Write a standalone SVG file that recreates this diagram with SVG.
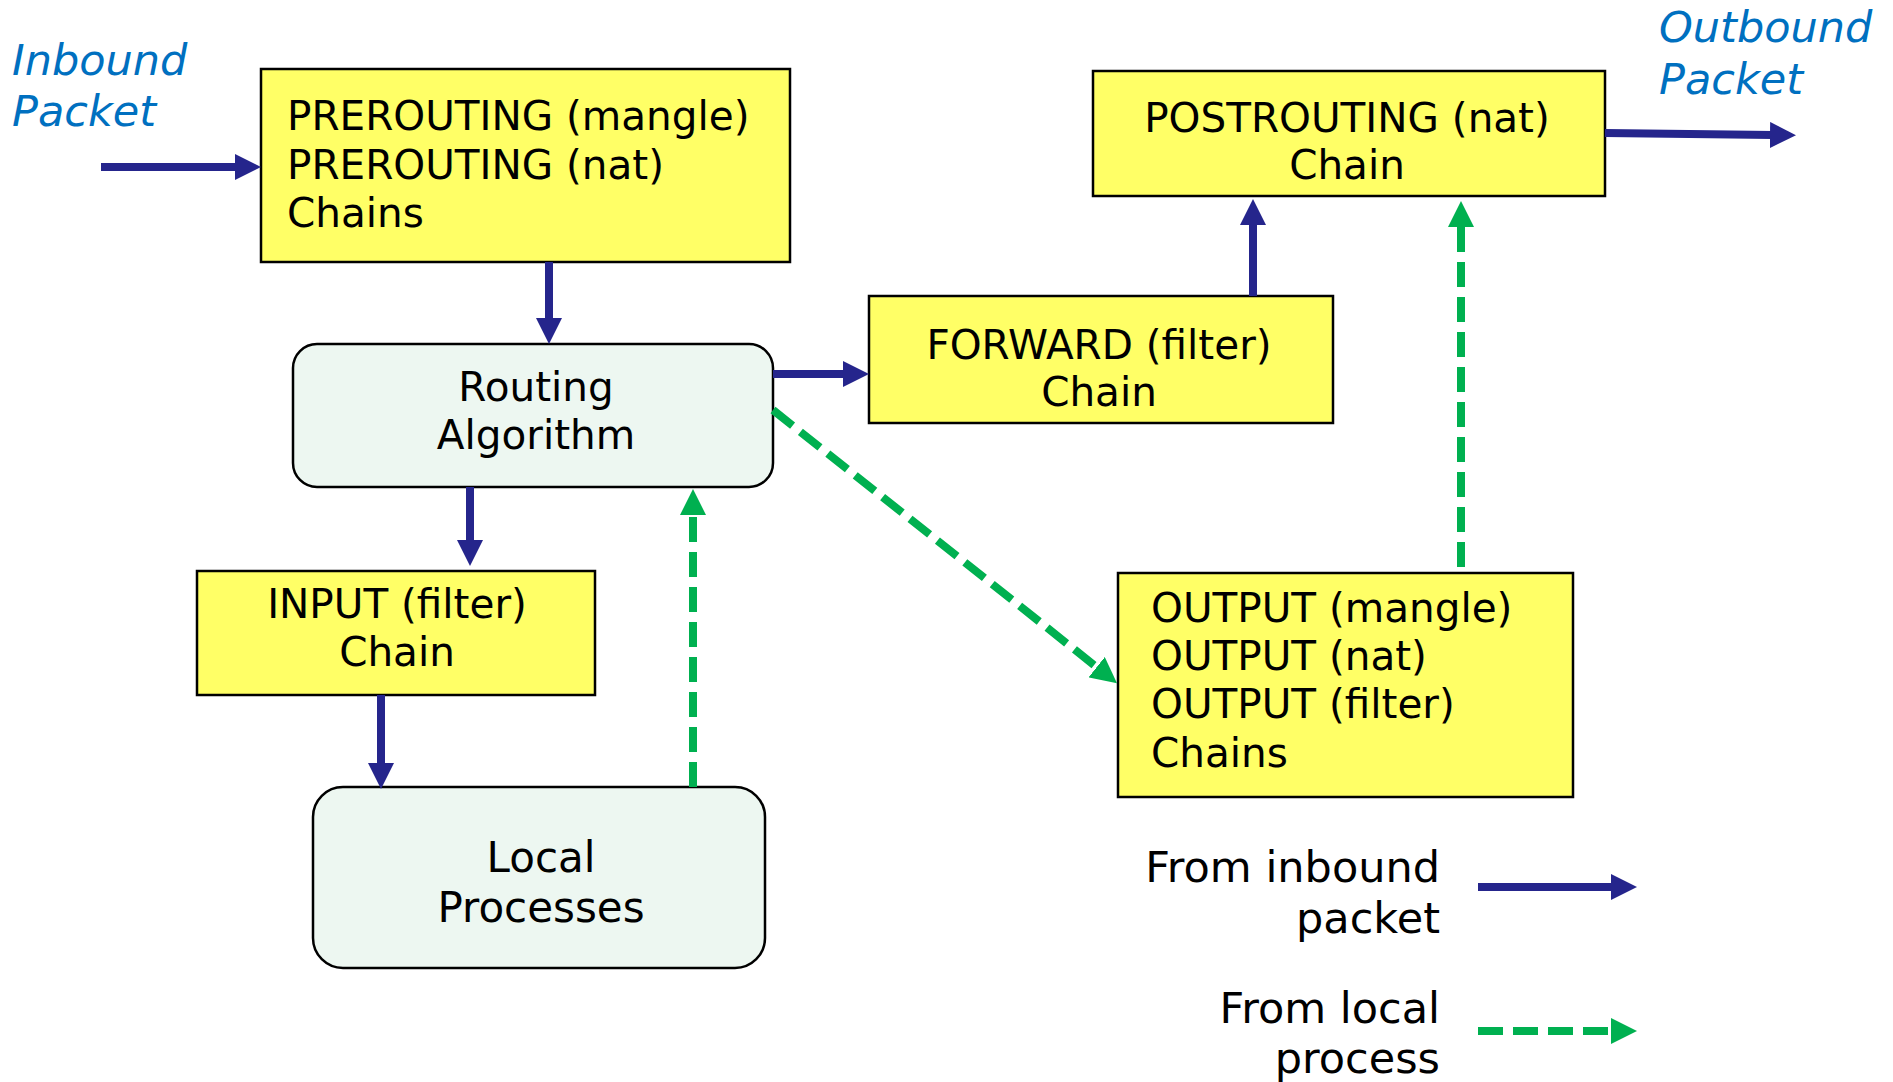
<svg xmlns="http://www.w3.org/2000/svg" width="1893" height="1082" viewBox="0 0 1893 1082">
<defs>
<style>
.chain{fill:#FFFF66;stroke:#000;stroke-width:2.5}
.proc{fill:#EDF7F1;stroke:#000;stroke-width:2.5}
.t{font-family:"DejaVu Sans",Verdana,sans-serif;font-size:40.5px;fill:#000}
.c{text-anchor:middle}
.lbl{font-family:"DejaVu Sans",Verdana,sans-serif;font-size:43px;font-style:italic;fill:#0070C0}
.leg{font-family:"DejaVu Sans",Verdana,sans-serif;font-size:43px;fill:#000;text-anchor:end}
.blue{stroke:#25258C;stroke-width:8;fill:none;marker-end:url(#ab)}
.green{stroke:#00B050;stroke-width:8;fill:none;stroke-dasharray:25 10;marker-end:url(#ag)}
</style>
<marker id="ab" markerUnits="userSpaceOnUse" markerWidth="26" markerHeight="26" refX="3" refY="13" orient="auto"><path d="M0,0 L26,13 L0,26 z" fill="#25258C"/></marker>
<marker id="ag" markerUnits="userSpaceOnUse" markerWidth="26" markerHeight="26" refX="3" refY="13" orient="auto"><path d="M0,0 L26,13 L0,26 z" fill="#00B050"/></marker>
</defs>
<rect width="1893" height="1082" fill="#fff"/>
<g id="labels">
<text class="lbl" x="12" y="75">Inbound</text>
<text class="lbl" x="12" y="126">Packet</text>
<text class="lbl" x="1659" y="42">Outbound</text>
<text class="lbl" x="1659" y="94">Packet</text>
</g>
<g id="prerouting">
<rect class="chain" x="261" y="69" width="529" height="193"/>
<text class="t" x="287" y="130">PREROUTING (mangle)</text>
<text class="t" x="287" y="179">PREROUTING (nat)</text>
<text class="t" x="287" y="227">Chains</text>
</g>
<g id="routing">
<rect class="proc" x="293" y="344" width="480" height="143" rx="24"/>
<text class="t c" x="536" y="401">Routing</text>
<text class="t c" x="536" y="449">Algorithm</text>
</g>
<g id="forward">
<rect class="chain" x="869" y="296" width="464" height="127"/>
<text class="t c" x="1099" y="359">FORWARD (filter)</text>
<text class="t c" x="1099" y="406">Chain</text>
</g>
<g id="postrouting">
<rect class="chain" x="1093" y="71" width="512" height="125"/>
<text class="t c" x="1347" y="132">POSTROUTING (nat)</text>
<text class="t c" x="1347" y="179">Chain</text>
</g>
<g id="input">
<rect class="chain" x="197" y="571" width="398" height="124"/>
<text class="t c" x="397" y="618">INPUT (filter)</text>
<text class="t c" x="397" y="666">Chain</text>
</g>
<g id="local">
<rect class="proc" x="313" y="787" width="452" height="181" rx="30"/>
<text class="t c" x="541" y="872" style="font-size:42px">Local</text>
<text class="t c" x="541" y="922" style="font-size:42px">Processes</text>
</g>
<g id="output">
<rect class="chain" x="1118" y="573" width="455" height="224"/>
<text class="t" x="1151" y="622">OUTPUT (mangle)</text>
<text class="t" x="1151" y="670">OUTPUT (nat)</text>
<text class="t" x="1151" y="718">OUTPUT (filter)</text>
<text class="t" x="1151" y="767">Chains</text>
</g>
<g id="connectors">
<line class="blue" x1="101" y1="167" x2="238" y2="167"/>
<line class="blue" x1="549" y1="262" x2="549" y2="321"/>
<line class="blue" x1="773" y1="374" x2="846" y2="374"/>
<line class="blue" x1="1253" y1="296" x2="1253" y2="222"/>
<line class="blue" x1="1605" y1="133" x2="1773" y2="135"/>
<line class="blue" x1="470" y1="487" x2="470" y2="543"/>
<line class="blue" x1="381" y1="695" x2="381" y2="766"/>
<line class="green" x1="693" y1="787" x2="693" y2="512"/>
<line class="green" x1="773" y1="410" x2="1099" y2="669"/>
<line class="green" x1="1461" y1="567" x2="1461" y2="224"/>
</g>
<g id="legend">
<text class="leg" x="1440" y="882">From inbound</text>
<text class="leg" x="1440" y="933">packet</text>
<line class="blue" x1="1478" y1="887" x2="1614" y2="887"/>
<text class="leg" x="1440" y="1023">From local</text>
<text class="leg" x="1440" y="1073">process</text>
<line class="green" x1="1478" y1="1031" x2="1614" y2="1031"/>
</g>
</svg>
